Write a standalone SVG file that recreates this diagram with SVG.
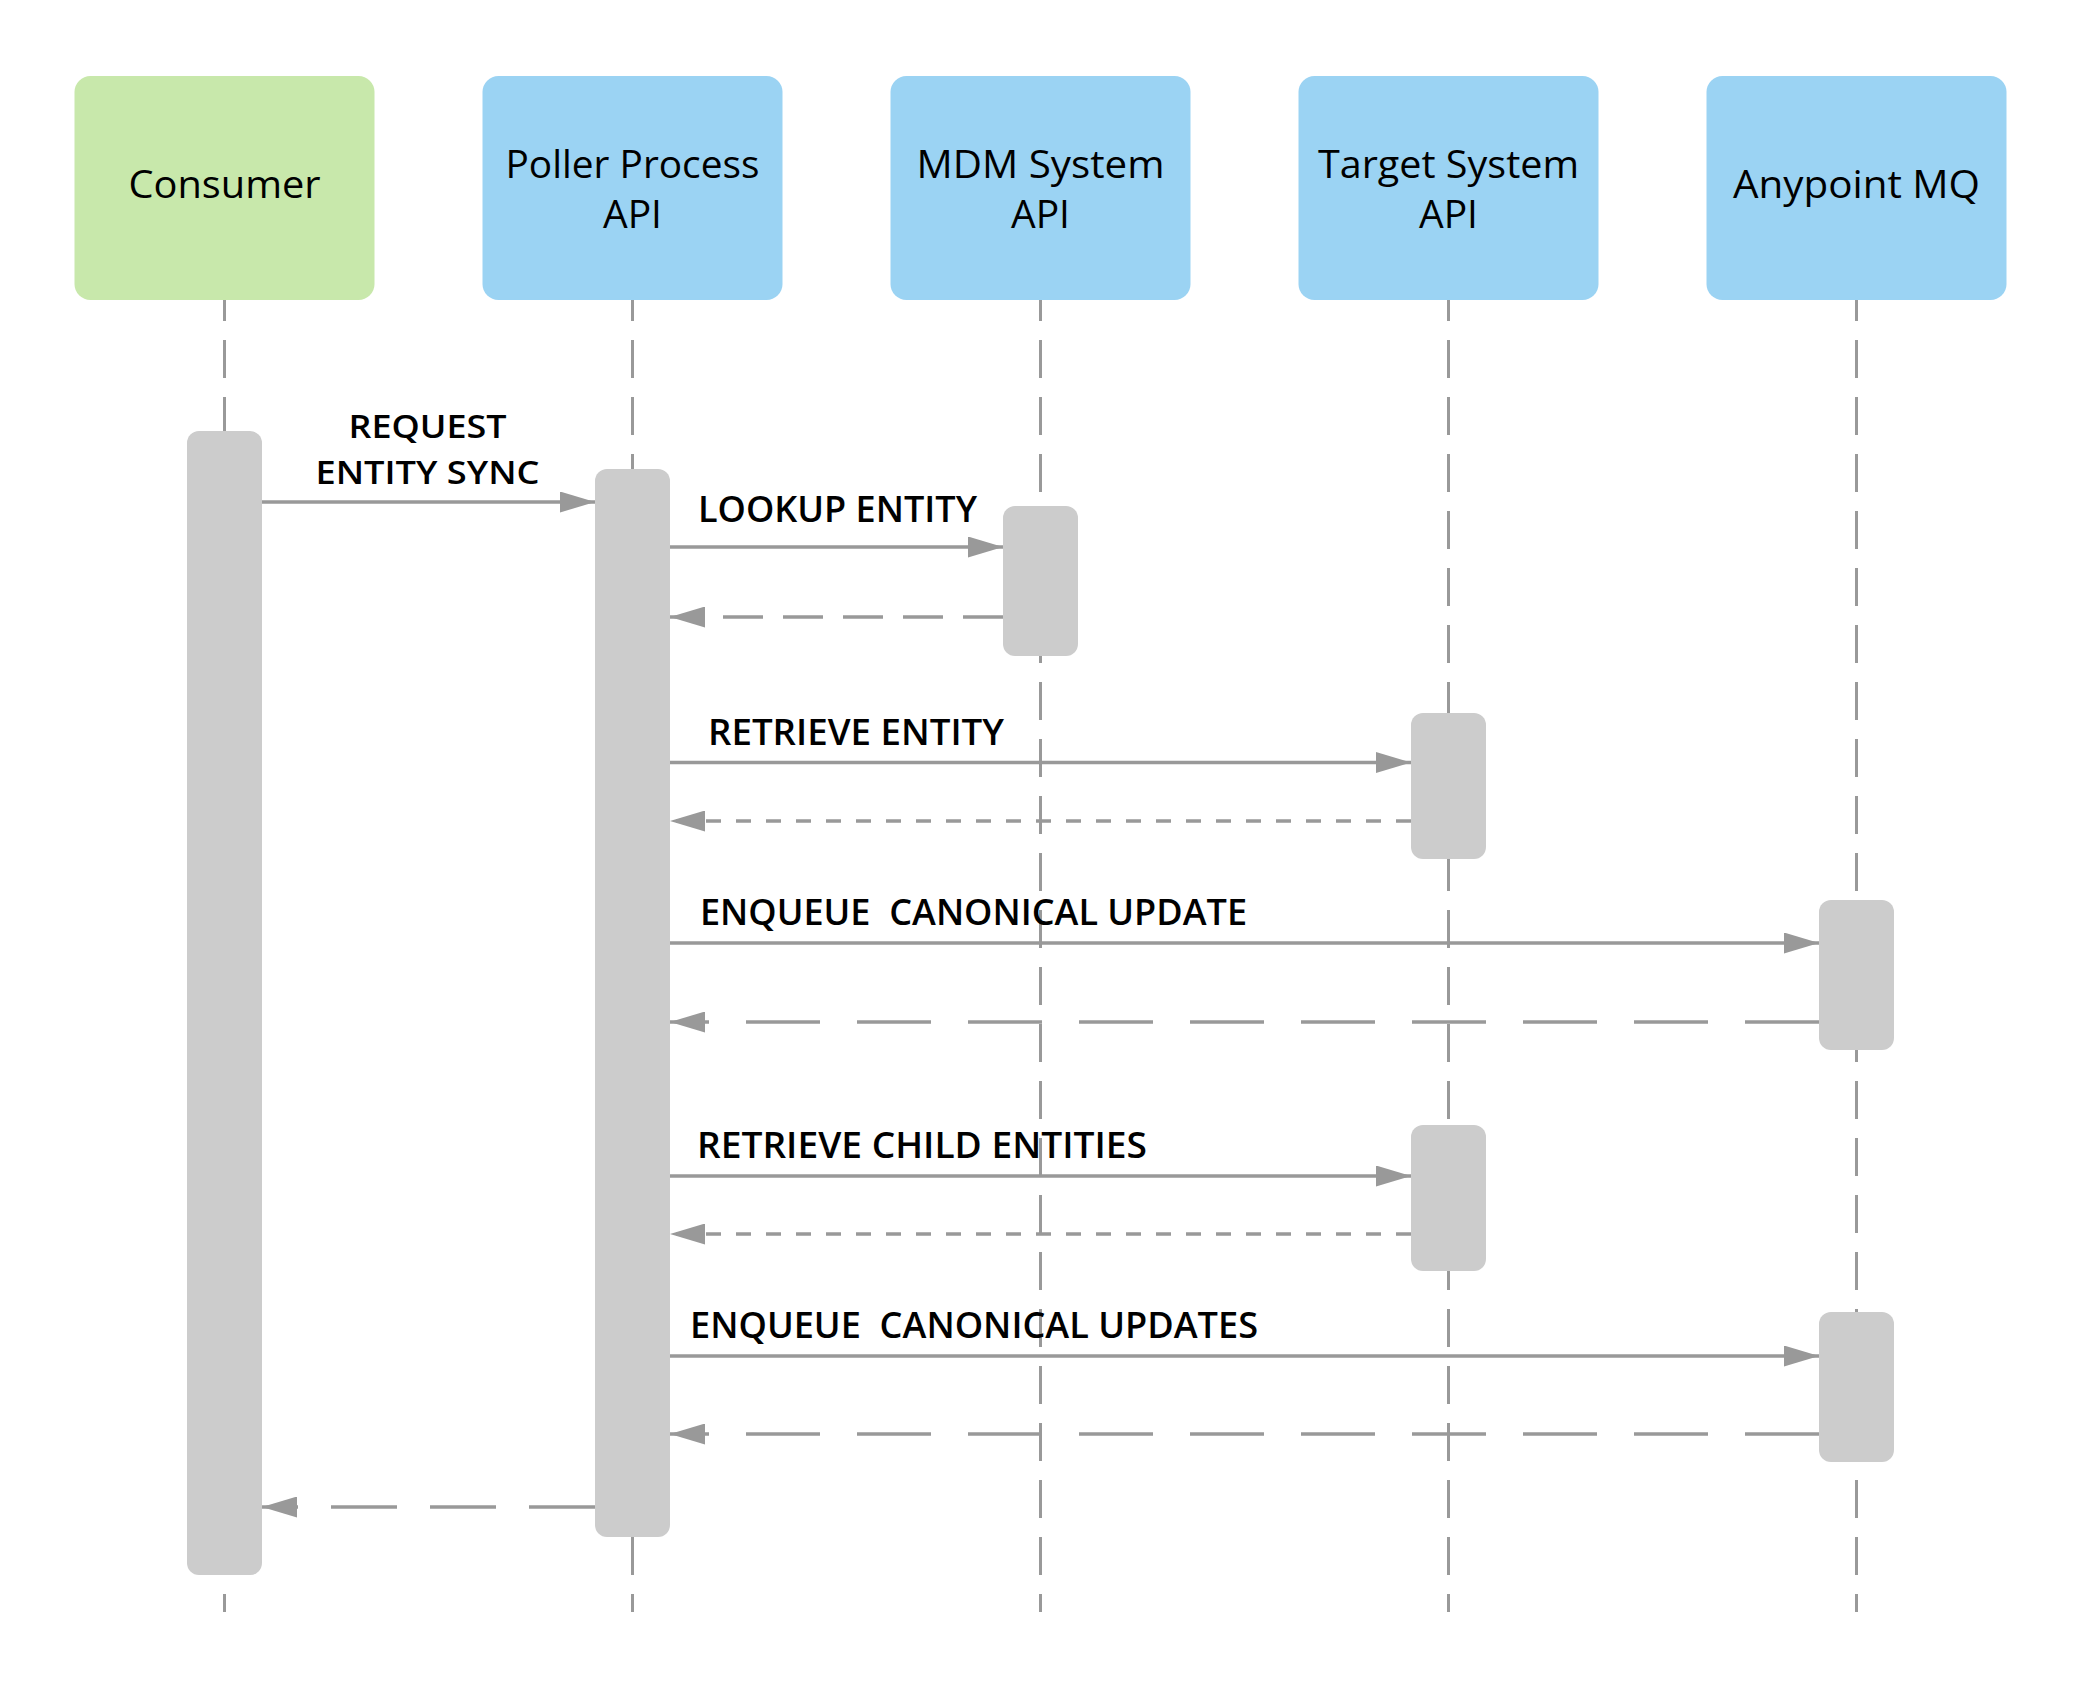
<svg xmlns="http://www.w3.org/2000/svg" width="2081" height="1688" viewBox="0 0 2081 1688">
  <style>
    .hdr { font-family: "Open Sans", "Liberation Sans", sans-serif; font-size: 39px; fill: #000; text-anchor: middle; }
    .lbl { font-family: "Open Sans", "Liberation Sans", sans-serif; font-size: 36px; font-weight: 600; fill: #000; }
    .lbl2 { font-size: 33px; }
    .box-green { fill: #C8E8AB; }
    .box-blue { fill: #9BD3F3; }
    .life { stroke: #999999; stroke-width: 3; stroke-dasharray: 38 19; fill: none; }
    .bar { fill: #CCCCCC; }
    .msg { stroke: #999999; stroke-width: 3.5; fill: none; marker-end: url(#arrow); }
    .ret1 { stroke-dasharray: 40 20; }
    .dot { stroke-dasharray: 15 15; }
    .long { stroke-dasharray: 74 37; }
    .long2 { stroke-dasharray: 66 33; }
  </style>
  <defs>
    <marker id="arrow" markerUnits="userSpaceOnUse" markerWidth="35" markerHeight="21" refX="35" refY="10.5" orient="auto">
      <path d="M0,0 L35,10.5 L0,21 Z" fill="#999999"/>
    </marker>
  </defs>
  <rect width="2081" height="1688" fill="#FFFFFF"/>

  <g id="lifelines">
    <line class="life" x1="224.5" y1="283" x2="224.5" y2="1612"/>
    <line class="life" x1="632.5" y1="283" x2="632.5" y2="1612"/>
    <line class="life" x1="1040.5" y1="283" x2="1040.5" y2="1612"/>
    <line class="life" x1="1448.5" y1="283" x2="1448.5" y2="1612"/>
    <line class="life" x1="1856.5" y1="283" x2="1856.5" y2="1612"/>
  </g>

  <g id="consumer">
    <rect class="box-green" x="74.5" y="76" width="300" height="224" rx="16"/>
    <text class="hdr" x="224.5" y="198" textLength="192" lengthAdjust="spacingAndGlyphs">Consumer</text>
  </g>
  <g id="poller">
    <rect class="box-blue" x="482.5" y="76" width="300" height="224" rx="16"/>
    <text class="hdr" x="632.5" y="178" textLength="254" lengthAdjust="spacingAndGlyphs">Poller Process</text>
    <text class="hdr" x="632.5" y="228">API</text>
  </g>
  <g id="mdm">
    <rect class="box-blue" x="890.5" y="76" width="300" height="224" rx="16"/>
    <text class="hdr" x="1040.5" y="178" textLength="248" lengthAdjust="spacingAndGlyphs">MDM System</text>
    <text class="hdr" x="1040.5" y="228">API</text>
  </g>
  <g id="target">
    <rect class="box-blue" x="1298.5" y="76" width="300" height="224" rx="16"/>
    <text class="hdr" x="1448.5" y="178" textLength="261" lengthAdjust="spacingAndGlyphs">Target System</text>
    <text class="hdr" x="1448.5" y="228">API</text>
  </g>
  <g id="anypoint">
    <rect class="box-blue" x="1706.5" y="76" width="300" height="224" rx="16"/>
    <text class="hdr" x="1856.5" y="198" textLength="247" lengthAdjust="spacingAndGlyphs">Anypoint MQ</text>
  </g>

  <g id="activations">
    <rect class="bar" x="187" y="431" width="75" height="1144" rx="12"/>
    <rect class="bar" x="595" y="469" width="75" height="1068" rx="12"/>
    <rect class="bar" x="1003" y="506" width="75" height="150" rx="12"/>
    <rect class="bar" x="1411" y="713" width="75" height="146" rx="12"/>
    <rect class="bar" x="1819" y="900" width="75" height="150" rx="12"/>
    <rect class="bar" x="1411" y="1125" width="75" height="146" rx="12"/>
    <rect class="bar" x="1819" y="1312" width="75" height="150" rx="12"/>
  </g>

  <g id="connectors">
    <line class="msg" x1="262" y1="502" x2="595" y2="502"/>
    <line class="msg" x1="670" y1="547" x2="1003" y2="547"/>
    <line class="msg ret1" x1="1003" y1="617" x2="670" y2="617"/>
    <line class="msg" x1="670" y1="762.5" x2="1411" y2="762.5"/>
    <line class="msg dot" x1="1411" y1="821" x2="670" y2="821"/>
    <line class="msg" x1="670" y1="943" x2="1819" y2="943"/>
    <line class="msg long" x1="1819" y1="1022" x2="670" y2="1022"/>
    <line class="msg" x1="670" y1="1176" x2="1411" y2="1176"/>
    <line class="msg dot" x1="1411" y1="1234" x2="670" y2="1234"/>
    <line class="msg" x1="670" y1="1356" x2="1819" y2="1356"/>
    <line class="msg long" x1="1819" y1="1434" x2="670" y2="1434"/>
    <line class="msg long2" x1="595" y1="1507" x2="262" y2="1507"/>
  </g>

  <g id="labels">
    <text class="lbl lbl2" x="427.5" y="438" text-anchor="middle" textLength="158" lengthAdjust="spacingAndGlyphs">REQUEST</text>
    <text class="lbl lbl2" x="427.5" y="484" text-anchor="middle" textLength="224" lengthAdjust="spacingAndGlyphs">ENTITY SYNC</text>
    <text class="lbl" x="698" y="522" textLength="279" lengthAdjust="spacingAndGlyphs">LOOKUP ENTITY</text>
    <text class="lbl" x="708" y="745" textLength="296" lengthAdjust="spacingAndGlyphs">RETRIEVE ENTITY</text>
    <text class="lbl" x="700" y="925" xml:space="preserve" textLength="547" lengthAdjust="spacingAndGlyphs">ENQUEUE  CANONICAL UPDATE</text>
    <text class="lbl" x="697" y="1158" textLength="450" lengthAdjust="spacingAndGlyphs">RETRIEVE CHILD ENTITIES</text>
    <text class="lbl" x="690" y="1338" xml:space="preserve" textLength="568" lengthAdjust="spacingAndGlyphs">ENQUEUE  CANONICAL UPDATES</text>
  </g>
</svg>
